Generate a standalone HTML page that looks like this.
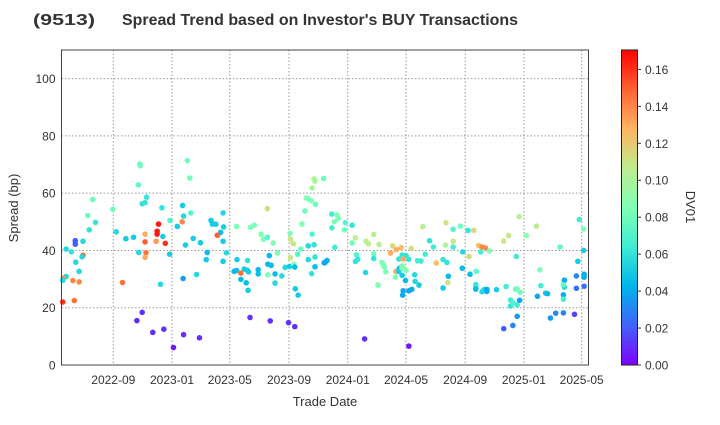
<!DOCTYPE html>
<html><head><meta charset="utf-8"><style>
body{margin:0;background:#fff;}
svg{font-family:"Liberation Sans",Arial,sans-serif;}
</style></head><body>
<svg id="chart" width="720" height="420" xmlns="http://www.w3.org/2000/svg">
<defs>
<linearGradient id="rb" x1="0" y1="1" x2="0" y2="0">
<stop offset="0" stop-color="#8000ff"/><stop offset="0.125" stop-color="#4062fa"/><stop offset="0.25" stop-color="#00b5eb"/><stop offset="0.375" stop-color="#40ecd4"/><stop offset="0.5" stop-color="#80ffb4"/><stop offset="0.625" stop-color="#c0eb8d"/><stop offset="0.75" stop-color="#ffb462"/><stop offset="0.875" stop-color="#ff6232"/><stop offset="1" stop-color="#ff0000"/>
</linearGradient>
</defs>
<text x="33" y="25" font-size="16" font-weight="bold" fill="#333" textLength="62" lengthAdjust="spacingAndGlyphs">(9513)</text>
<text x="122" y="25" font-size="16" font-weight="bold" fill="#333" textLength="396" lengthAdjust="spacingAndGlyphs">Spread Trend based on Investor's BUY Transactions</text>
<g id="grid"></g>
<g id="points"></g>
<rect x="61.5" y="50" width="527" height="315" fill="none" stroke="#444" stroke-width="1"/>
<g id="axes"></g>
<text transform="translate(18,208) rotate(-90)" text-anchor="middle" font-size="13" fill="#333">Spread (bp)</text>
<text x="325" y="406" text-anchor="middle" font-size="13" fill="#333">Trade Date</text>
<rect x="621.5" y="50" width="16" height="315" fill="url(#rb)" stroke="#222" stroke-width="1"/>
<g id="cbar"></g>
<text transform="translate(686,207) rotate(90)" text-anchor="middle" font-size="13" fill="#333">DV01</text>
</svg>
<script>
const baseDate = "2022-09-01";
const tradeDays = [55,56,52,154,159,-43,-1,-53,-37,-50,-79,-79,-63,-98,-87,-63,-65,-78,-71,-98,-104,-105,-84,-71,-105,-81,19,6,26,42,53,60,66,69,66,66,68,66,94,91,91,89,103,108,101,118,133,143,144,146,161,166,150,117,98,145,60,49,82,105,146,125,
181,173,179,195,193,203,206,213,228,229,223,216,228,235,228,256,285,293,320,307,312,320,332,341,257,279,251,256,265,272,278,281,265,276,280,301,301,324,321,328,321,336,350,336,357,366,368,375,377,367,368,374,378,384,284,326,364,377,383,389,392,398,401,404,411,420,417,419,413,437,413,405,417,405,419,419,412,438,
454,465,467,459,454,482,480,496,496,460,503,440,444,505,503,508,525,530,541,552,541,541,524,550,558,561,563,566,576,580,588,598,619,587,586,593,600,608,614,602,594,593,600,600,608,600,607,602,601,614,620,626,627,635,522,614,632,639,648,643,657,665,671,691,706,690,706,706,685,693,696,695,685,
721,737,749,726,739,759,766,773,763,781,811,821,843,858,879,837,725,741,754,753,753,753,766,770,776,776,796,816,825,825,831,839,836,839,845,844,839,830,811,886,888,881,898,902,908,919,935,958,928,937,937,935,935,935,962,962,978,965,968,977,977,978,978];
const spreads = [70.2,69.6,62.9,71.4,65.3,57.8,54.4,52.2,49.8,47.2,43.4,42.2,43.2,40.5,39.5,38.3,37.8,35.9,32.7,30.9,30.3,29.6,29.5,29.0,22.0,22.5,28.8,46.5,44.1,44.6,39.3,56.3,56.7,58.6,45.7,43.0,39.2,37.6,49.2,46.7,45.7,43.2,44.9,42.5,54.9,50.5,48.4,50.0,55.7,52.0,53.1,44.2,41.9,38.7,28.2,30.2,18.4,15.5,11.4,12.5,10.6,6.1,
42.7,31.6,9.5,39.3,36.8,50.5,49.2,49.2,53.1,48.2,46.3,45.3,43.2,39.2,36.2,48.4,48.1,48.8,54.6,45.7,43.9,44.6,42.6,39.1,36.8,36.5,32.7,33.0,32.1,33.5,33.1,32.5,29.9,28.7,26.1,33.3,31.8,38.2,35.2,34.8,31.5,31.8,31.1,28.6,34.1,34.4,37.5,35.2,34.2,45.9,43.9,42.3,26.6,24.4,16.6,15.4,14.8,13.4,38.7,40.5,49.2,53.8,58.3,58.2,57.4,56.1,65.0,64.2,61.8,65.1,45.7,41.6,42.0,36.8,37.7,34.3,31.9,35.7,
52.7,52.4,51.2,50.0,47.9,49.7,47.2,48.8,42.6,41.1,44.4,35.8,36.5,38.5,36.2,36.9,43.2,42.3,45.6,42.1,38.9,37.2,32.3,27.9,35.8,35.0,34.2,32.5,39.1,41.6,40.3,41.0,40.7,32.7,30.7,37.0,38.4,38.2,36.9,37.0,33.8,32.7,34.6,33.8,33.0,31.3,29.5,25.9,24.4,25.9,26.4,31.5,29.2,27.9,9.1,6.6,36.4,36.3,38.7,48.3,43.4,41.2,35.6,49.7,47.4,41.9,43.2,41.2,36.8,35.8,31.0,28.8,26.9,
48.5,47.0,47.0,39.5,37.9,41.7,41.2,40.9,39.5,39.8,43.3,45.2,51.8,45.2,48.5,37.9,33.8,31.7,32.7,28.1,27.3,26.5,25.6,26.3,26.4,25.7,26.3,27.4,22.7,20.6,21.6,21.0,26.5,26.6,25.4,22.6,17.0,13.8,12.7,33.2,27.7,24.0,25.1,24.9,16.4,18.1,18.2,17.7,41.2,29.6,27.2,28.0,24.5,23.0,31.1,26.8,27.5,36.2,50.8,47.5,40.0,31.7,30.7];
const dv01s = [.08,.08,.075,.08,.08,.08,.08,.08,.06,.06,.02,.02,.055,.055,.06,.15,.055,.055,.055,.055,.14,.055,.14,.14,.16,.145,.145,.055,.05,.05,.055,.06,.06,.06,.13,.15,.145,.13,.165,.165,.165,.135,.05,.16,.06,.07,.05,.14,.05,.055,.07,.05,.05,.05,.055,.035,.01,.01,.01,.01,.01,.005,
.05,.055,.01,.045,.05,.05,.05,.05,.055,.05,.045,.15,.05,.055,.05,.085,.085,.085,.115,.085,.085,.07,.085,.085,.05,.06,.045,.045,.145,.05,.05,.05,.045,.045,.05,.045,.045,.045,.045,.045,.085,.045,.055,.055,.055,.05,.11,.085,.045,.085,.11,.11,.05,.05,.01,.01,.01,.01,.07,.08,.085,.08,.085,.085,.085,.08,.1,.1,.1,.08,.07,.055,.06,.055,.06,.045,.06,.04,
.065,.085,.085,.085,.065,.07,.08,.06,.08,.065,.105,.04,.04,.07,.06,.06,.105,.105,.105,.105,.08,.06,.055,.085,.085,.085,.085,.085,.13,.115,.13,.125,.115,.13,.085,.06,.06,.06,.06,.13,.05,.05,.085,.085,.085,.05,.045,.04,.04,.04,.04,.055,.055,.05,.01,.005,.065,.065,.065,.105,.06,.065,.125,.11,.07,.1,.11,.065,.06,.06,.045,.11,.05,
.08,.06,.115,.055,.115,.125,.14,.14,.065,.085,.11,.11,.105,.09,.105,.065,.045,.045,.075,.06,.06,.045,.055,.055,.04,.04,.05,.065,.065,.06,.07,.065,.07,.085,.08,.04,.035,.03,.02,.085,.065,.04,.05,.045,.035,.03,.03,.015,.075,.04,.055,.075,.04,.065,.03,.025,.025,.05,.065,.085,.05,.04,.04];
const yTicks = [0,20,40,60,80,100];
const xTickLabels = ["2022-09","2023-01","2023-05","2023-09","2024-01","2024-05","2024-09","2025-01","2025-05"];
const cbarTicks = [0,0.02,0.04,0.06,0.08,0.10,0.12,0.14,0.16];

const NS="http://www.w3.org/2000/svg";
const base=Date.parse(baseDate);
const DAY=86400000;
const L=61.5,R=588.5,T=50,B=365;
const xDay=d=>113.3+d*0.4814;
const yS=v=>B-v*(B-T)/110;
const cV=v=>B-v*(B-T)/0.1705;
function rainbow(v){let x=Math.max(0,Math.min(1,v/0.1705));
 let r=Math.min(1,Math.abs(2*x-0.5)),g=Math.sin(Math.PI*x),b=Math.cos(Math.PI*x/2);
 return `rgb(${Math.round(r*255)},${Math.round(g*255)},${Math.round(b*255)})`;}
function mk(tag,attrs,parent){const e=document.createElementNS(NS,tag);for(const k in attrs)e.setAttribute(k,attrs[k]);parent.appendChild(e);return e;}
const grid=document.getElementById('grid'),axes=document.getElementById('axes');
yTicks.forEach(v=>{const y=yS(v);
 if(v>0){const ln=mk('line',{x1:L,x2:R,y1:y,y2:y,stroke:'#999','stroke-dasharray':'1.5,2','stroke-width':1},grid);
 
 }
 const t=mk('text',{x:L-6,y:y+4.5,'text-anchor':'end','font-size':12,fill:'#333'},axes);t.textContent=v;
 
 
});
xTickLabels.forEach(lbl=>{const d=(Date.parse(lbl+"-01")-base)/DAY;const x=xDay(d);
 const ln=mk('line',{x1:x,x2:x,y1:T,y2:B,stroke:'#999','stroke-dasharray':'1.5,2','stroke-width':1},grid);
 
 
 const t=mk('text',{x:x,y:384,'text-anchor':'middle','font-size':12,fill:'#333'},axes);t.textContent=lbl;
 
 
});
const pts=document.getElementById('points');
tradeDays.forEach((d,i)=>{
 const c=mk('circle',{cx:xDay(d),cy:yS(spreads[i]),r:2.8,fill:rainbow(dv01s[i])},pts);
 
 
});
const cb=document.getElementById('cbar');
cbarTicks.forEach(v=>{const y=cV(v);
 mk('line',{x1:637.5,x2:641,y1:y,y2:y,stroke:'#333'},cb);
 const t=mk('text',{x:645,y:y+4.5,'font-size':12,fill:'#333'},cb);t.textContent=v.toFixed(2);
 
 
});
</script>
</body></html>
